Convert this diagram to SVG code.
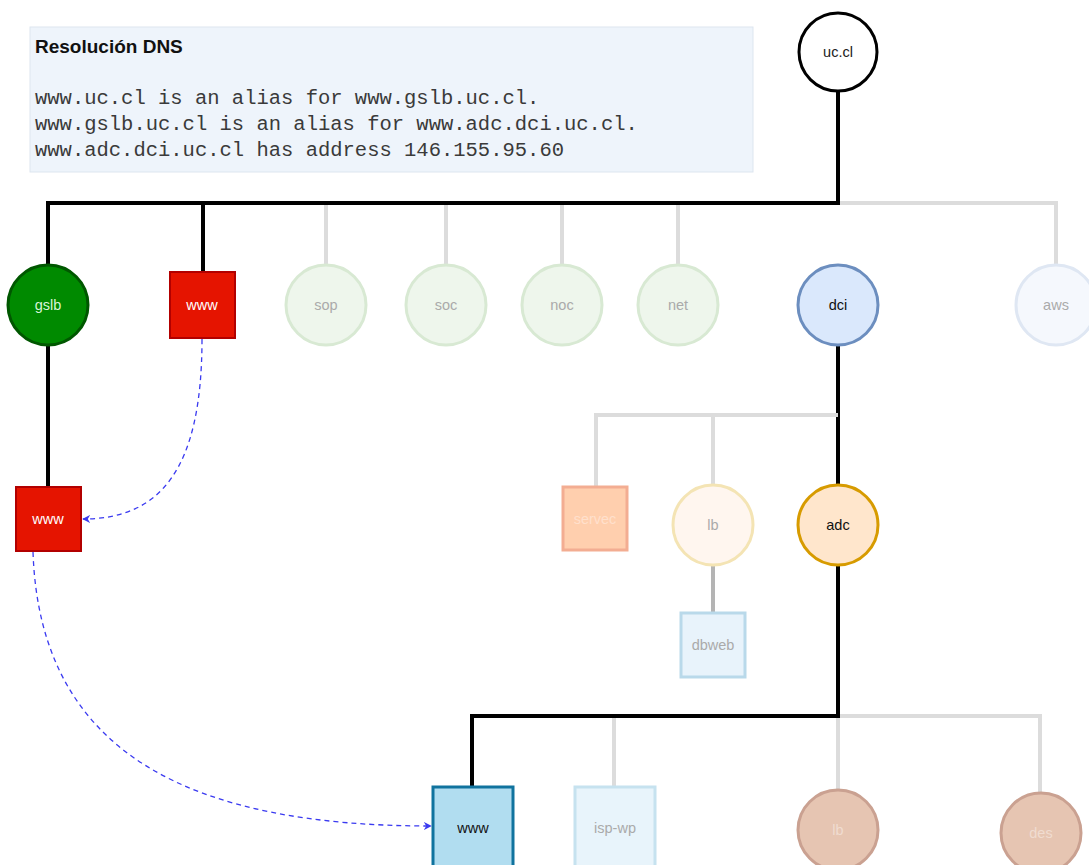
<svg xmlns="http://www.w3.org/2000/svg" width="1089" height="865" viewBox="0 0 1089 865">
<style>
text{font-family:"Liberation Sans",Arial,sans-serif;font-size:14.5px;text-anchor:middle;dominant-baseline:central}
.mono{font-family:"Liberation Mono","Courier New",monospace;font-size:20.5px;text-anchor:start;fill:#3a3a3a;dominant-baseline:auto}
.title{font-size:19px;font-weight:bold;text-anchor:start;fill:#111;dominant-baseline:auto}
.k{stroke:#000;stroke-width:4;fill:none}
.g{stroke:#dcdcdc;stroke-width:4;fill:none}
.gd{stroke:#b4b4b4;stroke-width:4;fill:none}
.dash{stroke:#3a3af0;stroke-width:1.3;stroke-dasharray:5 4;fill:none;marker-end:url(#arr)}
.green{fill:#eef6ec;stroke:#d8e9d3;stroke-width:3}
.gt{fill:#aaa}
</style>
<defs>
<marker id="arr" viewBox="0 0 10 10" refX="9" refY="5" markerWidth="8" markerHeight="8" orient="auto" markerUnits="userSpaceOnUse">
<path d="M0,0 L10,5 L0,10 L3,5 Z" fill="#3a3af0"/>
</marker>
</defs>
<rect width="1089" height="865" fill="#fff"/>
<g id="info">
<rect x="30" y="27" width="723" height="145" fill="#eef4fb" stroke="#dde6ef" stroke-width="1"/>
<text class="title" x="35" y="53">Resolución DNS</text>
<text class="mono" x="35" y="104">www.uc.cl is an alias for www.gslb.uc.cl.</text>
<text class="mono" x="35" y="130">www.gslb.uc.cl is an alias for www.adc.dci.uc.cl.</text>
<text class="mono" x="35" y="156">www.adc.dci.uc.cl has address 146.155.95.60</text>
</g>
<g id="connectors">
<path class="g" d="M838,203 H1056 V265"/>
<path class="g" d="M326,203 V265 M446,203 V265 M562,203 V265 M678,203 V265"/>
<path class="k" d="M838,92 V203 H48 V265 M203,203 V272"/>
<path class="k" d="M48,345 V487"/>
<path class="k" d="M838,345 V485"/>
<path class="g" d="M838,415 H596 V487 M713,415 V485"/>
<path class="gd" d="M713,565 V613"/>
<path class="g" d="M838,716 H1040 V793 M838,716 V790 M614,716 V787"/>
<path class="k" d="M838,565 V716 H472 V787"/>
<path class="dash" d="M202,339 C202,470 160,519 83,519"/>
<path class="dash" d="M33,552 C40,760 200,826 431,826"/>
</g>
<g id="uccl"><circle cx="838" cy="52" r="39" fill="#fff" stroke="#000" stroke-width="3"/><text x="838" y="52" fill="#222">uc.cl</text></g>
<g id="gslb"><circle cx="48" cy="305" r="40" fill="#008a00" stroke="#005700" stroke-width="3"/><text x="48" y="305" fill="#d8f5d8">gslb</text></g>
<g id="www1"><rect x="170" y="272" width="65" height="66" fill="#e51400" stroke="#b20000" stroke-width="2"/><text x="202" y="305" fill="#fff">www</text></g>
<g id="sop"><circle class="green" cx="326" cy="305" r="40"/><text class="gt" x="326" y="305">sop</text></g>
<g id="soc"><circle class="green" cx="446" cy="305" r="40"/><text class="gt" x="446" y="305">soc</text></g>
<g id="noc"><circle class="green" cx="562" cy="305" r="40"/><text class="gt" x="562" y="305">noc</text></g>
<g id="net"><circle class="green" cx="678" cy="305" r="40"/><text class="gt" x="678" y="305">net</text></g>
<g id="dci"><circle cx="838" cy="305" r="40" fill="#dae8fc" stroke="#6c8ebf" stroke-width="3"/><text x="838" y="305" fill="#111">dci</text></g>
<g id="aws"><circle cx="1056" cy="305" r="40" fill="#f5f8fd" stroke="#dfe7f3" stroke-width="3"/><text class="gt" x="1056" y="305">aws</text></g>
<g id="www2"><rect x="16" y="487" width="65" height="64" fill="#e51400" stroke="#b20000" stroke-width="2"/><text x="48" y="519" fill="#fff">www</text></g>
<g id="servec"><rect x="563" y="487" width="64" height="63" fill="#ffcfae" stroke="#f3ad92" stroke-width="3"/><text x="595" y="519" fill="#ffe0cc">servec</text></g>
<g id="lb1"><circle cx="713" cy="525" r="40" fill="#fff6ef" stroke="#f4e4b4" stroke-width="3"/><text class="gt" x="713" y="525">lb</text></g>
<g id="adc"><circle cx="838" cy="525" r="40" fill="#ffe6cc" stroke="#d79b00" stroke-width="3"/><text x="838" y="525" fill="#111">adc</text></g>
<g id="dbweb"><rect x="681" y="613" width="64" height="64" fill="#e8f3fb" stroke="#b9d9ea" stroke-width="3"/><text class="gt" x="713" y="645">dbweb</text></g>
<g id="www3"><rect x="433" y="787" width="80" height="80" fill="#b1ddf0" stroke="#10739e" stroke-width="3"/><text x="473" y="828" fill="#111">www</text></g>
<g id="ispwp"><rect x="575" y="787" width="80" height="80" fill="#e8f4fb" stroke="#c6e2ef" stroke-width="3"/><text class="gt" x="615" y="828">isp-wp</text></g>
<g id="lb2"><circle cx="838" cy="830" r="40" fill="#e6c5b2" stroke="#caa191" stroke-width="3"/><text x="838" y="830" fill="#f0dcd0">lb</text></g>
<g id="des"><circle cx="1041" cy="833" r="40" fill="#e6c5b2" stroke="#caa191" stroke-width="3"/><text x="1041" y="833" fill="#f0dcd0">des</text></g>
</svg>
